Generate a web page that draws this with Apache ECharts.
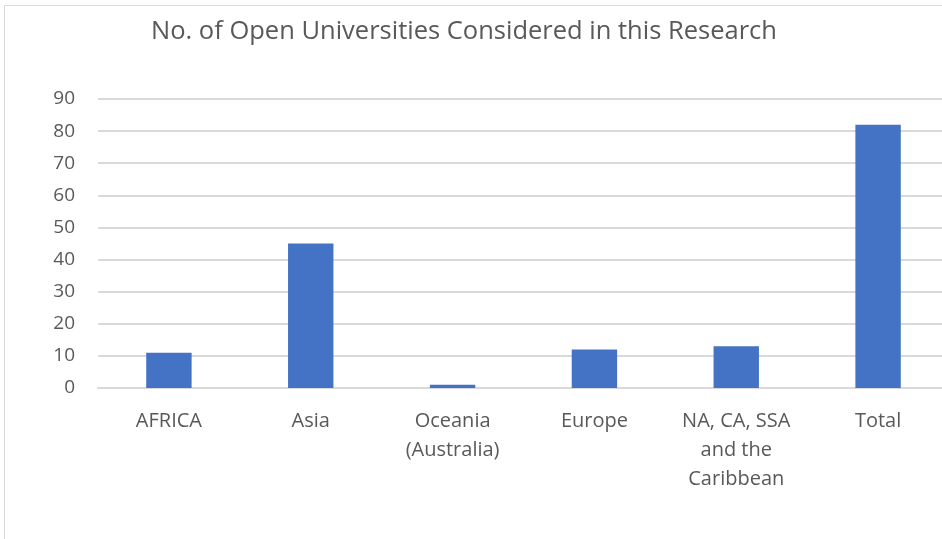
<!DOCTYPE html>
<html><head><meta charset="utf-8">
<script src="https://cdn.jsdelivr.net/npm/echarts@6/dist/echarts.min.js"></script>
<style>html,body{margin:0;padding:0;background:#fff}#c{width:942px;height:539px}</style>
</head><body><div id="c"></div>
<script>
const categories = ['AFRICA', 'Asia', 'Oceania\n(Australia)', 'Europe', 'NA, CA, SSA\nand the\nCaribbean', 'Total'];
const values = [11, 45, 1, 12, 13, 82];
const titleText = 'No. of Open Universities Considered in this Research';

const FONT = '"Open Sans", sans-serif';
const chart = echarts.init(document.getElementById('c'));
chart.setOption({
  backgroundColor: '#fff',
  animation: false,
  title: {
    text: titleText, left: 146, top: 14,
    textStyle: {fontFamily: FONT, fontSize: 25.5, fontWeight: 'normal', color: '#595959'}
  },
  graphic: [{
    type: 'rect', shape: {x: 4.5, y: 5.5, width: 960, height: 560},
    style: {fill: 'none', stroke: '#d9d9d9', lineWidth: 1}, silent: true
  }],
  grid: {left: 98, width: 851, top: 99, bottom: 151, outerBoundsMode: 'none', containLabel: false},
  xAxis: {
    type: 'category', data: categories,
    axisLine: {lineStyle: {color: '#d9d9d9', width: 2}},
    axisTick: {show: false},
    axisLabel: {fontFamily: FONT, fontSize: 20, color: '#595959', lineHeight: 29, margin: 19, interval: 0}
  },
  yAxis: {
    type: 'value', min: 0, max: 90, interval: 10,
    axisLine: {show: false}, axisTick: {show: false},
    splitLine: {lineStyle: {color: '#d9d9d9', width: 2}},
    axisLabel: {fontFamily: FONT, fontSize: 19, color: '#595959', margin: 23}
  },
  series: [{
    type: 'bar', data: values, barWidth: '32%',
    itemStyle: {color: '#4472c4'}
  }]
});
</script></body></html>
